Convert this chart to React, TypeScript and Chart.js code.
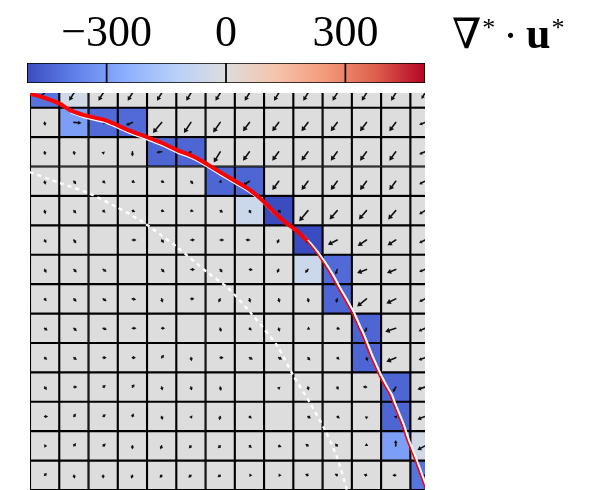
import React, { useEffect, useRef } from "react";
import { Chart, registerables } from "chart.js";

Chart.register(...registerables);

// ---------- data ----------
const ROWS = [0, 1, 2, 3, 4, 5, 6, 7, 8, 9, 10, 11, 12, 13];
const COLS = [0, 1, 2, 3, 4, 5, 6, 7, 8, 9, 10, 11, 12, 13];

// divergence per cell (row 0 = top)
const DIV: number[][] = [
  [-410, -40, 0, 0, 0, 0, 0, 0, 0, 0, 0, 0, 0, 0],
  [0, -300, -430, -430, 0, 0, 0, 0, 0, 0, 0, 0, 0, 0],
  [0, 0, 0, 0, -440, -440, 0, 0, 0, 0, 0, 0, 0, 0],
  [0, 0, 0, 0, 0, 0, -440, -440, 0, 0, 0, 0, 0, 0],
  [0, 0, 0, 0, 0, 0, 0, -60, -500, 0, 0, 0, 0, 0],
  [0, 0, 0, 0, 0, 0, 0, 0, 0, -500, 0, 0, 0, 0],
  [0, 0, 0, 0, 0, 0, 0, 0, 0, -60, -430, 0, 0, 0],
  [0, 0, 0, 0, 0, 0, 0, 0, 0, 0, -440, 0, 0, 0],
  [0, 0, 0, 0, 0, 0, 0, 0, 0, 0, 0, -440, 0, 0],
  [0, 0, 0, 0, 0, 0, 0, 0, 0, 0, 0, -440, 0, 0],
  [0, 0, 0, 0, 0, 0, 0, 0, 0, 0, 0, 0, -440, 0],
  [0, 0, 0, 0, 0, 0, 0, 0, 0, 0, 0, 0, -440, 0],
  [0, 0, 0, 0, 0, 0, 0, 0, 0, 0, 0, 0, -300, -40],
  [0, 0, 0, 0, 0, 0, 0, 0, 0, 0, 0, 0, 0, -410],
];

// velocity vectors (u right, v up), cell units
const U: number[][] = [
  [-0.15, -0.16, -0.16, -0.16, -0.16, -0.16, -0.16, -0.16, -0.16, -0.16, -0.16, -0.16, -0.16, -0.12],
  [0.02, 0.26, 0.12, -0.22, -0.3, -0.24, -0.24, -0.22, -0.22, -0.22, -0.22, -0.22, -0.22, -0.2],
  [0.02, 0.03, 0.02, 0, -0.18, -0.26, -0.22, -0.22, -0.22, -0.22, -0.22, -0.22, -0.22, -0.2],
  [0.03, 0.08, 0.08, 0.09, 0.1, 0.08, 0.06, -0.22, -0.22, -0.22, -0.22, -0.22, -0.22, -0.2],
  [0.03, 0.08, 0.08, 0.1, 0.1, 0.1, 0.1, 0.06, 0.08, -0.3, -0.26, -0.26, -0.26, -0.2],
  [0.06, 0.08, 0, 0.14, 0.08, 0.14, 0.14, -0.14, -0.06, -0.06, -0.32, -0.3, -0.28, -0.2],
  [0.06, 0.1, 0.12, 0, 0.1, 0.14, 0.08, 0.12, -0.06, -0.1, -0.06, -0.32, -0.3, -0.2],
  [0.07, 0.09, 0.12, 0.13, 0.03, 0.12, -0.06, 0.03, 0.03, 0.03, -0.04, -0.32, -0.32, -0.2],
  [0.1, 0.1, 0.13, 0.14, 0.12, 0, 0.03, 0.08, 0.03, 0.08, 0.1, -0.06, -0.36, -0.22],
  [0.09, 0.1, 0.12, 0.12, 0.08, 0.03, 0.12, 0.12, 0.12, 0.08, 0.08, 0.04, -0.32, -0.22],
  [0.08, 0.12, 0.09, 0.07, 0.03, 0.03, 0.03, 0, 0.02, 0.02, 0.04, -0.13, -0.1, -0.26],
  [0.12, 0.07, 0.09, 0.04, 0.03, 0.04, -0.03, 0.08, 0, 0.1, 0.09, 0, 0.02, -0.26],
  [0.09, 0.07, 0.09, 0, -0.04, -0.07, -0.08, 0.08, 0.1, -0.09, -0.08, 0, 0, -0.26],
  [0.08, 0.03, 0, -0.04, -0.07, -0.09, -0.09, 0.1, 0.1, -0.1, -0.09, -0.1, -0.12, -0.08],
];
const V: number[][] = [
  [-0.15, -0.26, -0.26, -0.26, -0.26, -0.26, -0.26, -0.26, -0.26, -0.26, -0.26, -0.26, -0.26, -0.2],
  [-0.12, -0.02, -0.04, -0.1, -0.36, -0.36, -0.34, -0.3, -0.3, -0.3, -0.3, -0.3, -0.3, -0.08],
  [-0.12, -0.12, -0.1, -0.16, -0.02, -0.12, -0.36, -0.3, -0.3, -0.3, -0.3, -0.3, -0.3, -0.08],
  [-0.12, -0.1, -0.08, -0.06, -0.05, -0.1, -0.06, -0.14, -0.3, -0.3, -0.3, -0.3, -0.3, -0.1],
  [-0.12, -0.1, -0.07, -0.05, -0.04, -0.03, -0.06, -0.1, -0.08, -0.36, -0.3, -0.3, -0.3, -0.12],
  [-0.1, -0.12, 0, 0, -0.1, 0.01, 0, 0.01, -0.12, -0.1, -0.16, -0.2, -0.18, -0.1],
  [-0.12, -0.1, -0.08, 0, -0.1, 0, -0.1, -0.02, -0.12, -0.12, -0.18, -0.12, -0.12, -0.08],
  [-0.08, -0.1, -0.08, -0.03, -0.13, 0, -0.12, -0.13, -0.13, -0.13, -0.14, -0.26, -0.16, -0.1],
  [-0.08, -0.1, -0.05, 0, 0, 0, -0.13, -0.08, -0.12, -0.04, -0.03, -0.14, -0.12, -0.1],
  [-0.07, -0.08, 0, 0, 0.1, -0.12, 0, -0.06, -0.06, -0.1, -0.07, -0.12, -0.14, -0.08],
  [-0.1, 0, 0.07, 0.1, -0.12, -0.12, -0.13, 0, -0.1, -0.12, -0.1, 0.01, -0.18, -0.08],
  [0, 0.1, 0.08, 0.11, -0.12, -0.08, -0.13, -0.07, 0, -0.07, -0.07, -0.1, -0.08, -0.1],
  [0, 0.1, 0.08, -0.12, -0.12, -0.09, -0.08, -0.07, -0.04, 0.07, 0.08, 0.1, 0.2, -0.14],
  [0.08, -0.12, -0.12, -0.12, -0.09, -0.08, -0.07, 0, 0, 0.04, 0.05, 0.03, 0, 0],
];

// interface curve (red), cell units: x = column, y = row (down)
const RED_X = [-0.5, 0.013, 0.525, 0.867, 1.448, 2.063, 2.473, 2.918, 3.499, 4.011, 4.524, 5.037, 5.481, 5.994, 6.506, 7.019, 7.463, 7.873, 8.215, 8.625, 8.967, 9.24, 9.514, 9.787, 10.026, 10.266, 10.505, 10.71, 10.881, 11.12, 11.291, 11.462, 11.667, 11.803, 11.906, 12.077, 12.214, 12.385, 12.59, 12.761, 12.932, 13.034];
const RED_Y = [0.02, 0.17, 0.37, 0.58, 0.78, 0.92, 1.09, 1.29, 1.5, 1.7, 1.94, 2.14, 2.38, 2.69, 2.99, 3.3, 3.67, 4.08, 4.39, 4.69, 5.03, 5.37, 5.75, 6.19, 6.63, 7.04, 7.48, 7.93, 8.3, 8.91, 9.29, 9.66, 10.03, 10.27, 10.54, 10.95, 11.29, 11.8, 12.31, 12.76, 13.23, 13.5];
const RED_THICK_END = 20; // index where the thick part ends

// second interface (white)
const WHITE_X = [0.9, 1.47, 2.08, 2.49, 2.93, 3.51, 4.02, 4.53, 5.05, 5.49, 6.0, 6.51, 7.03, 7.48, 7.9, 8.25, 8.67, 9.03, 9.31, 9.58, 9.86, 10.1, 10.34, 10.58, 10.78, 10.95, 11.19, 11.36, 11.53, 11.73, 11.87, 11.97, 12.14, 12.28, 12.45, 12.65, 12.82, 12.99, 13.09];
const WHITE_Y = [0.66, 0.86, 1.0, 1.17, 1.37, 1.58, 1.78, 2.02, 2.22, 2.46, 2.77, 3.07, 3.38, 3.74, 4.14, 4.44, 4.73, 5.05, 5.38, 5.75, 6.19, 6.63, 7.04, 7.48, 7.93, 8.3, 8.91, 9.29, 9.66, 10.03, 10.27, 10.54, 10.95, 11.29, 11.8, 12.31, 12.76, 13.23, 13.5];

// dotted arc
const ARC_X = [-0.5, 0.525, 1.482, 2.473, 3.362, 4.524, 5.549, 6.233, 7.019, 7.976, 8.489, 9.07, 9.582, 9.992, 10.334];
const ARC_Y = [2.69, 3.06, 3.4, 3.88, 4.39, 5.24, 6.09, 6.6, 7.45, 8.64, 9.59, 10.54, 11.46, 12.38, 13.5];

// colour bar
const CB_MIN = -500;
const CB_MAX = 500;
const CB_TICKS = [-300, 0, 300];
const CB_BOUNDS = [-500, -300, 0, 300, 500];

// coolwarm colormap stops
const CMAP: [number, number, number][] = [
  [59, 76, 192],
  [98, 130, 234],
  [141, 176, 254],
  [184, 208, 249],
  [221, 221, 221],
  [245, 196, 173],
  [244, 154, 123],
  [222, 96, 77],
  [180, 4, 38],
];

function cmap(t: number): string {
  const tt = Math.max(0, Math.min(1, t)) * (CMAP.length - 1);
  const i = Math.min(CMAP.length - 2, Math.floor(tt));
  const f = tt - i;
  const a = CMAP[i], b = CMAP[i + 1];
  const c = a.map((v, k) => Math.round(v + (b[k] - v) * f));
  return `rgb(${c[0]},${c[1]},${c[2]})`;
}
const valueColor = (v: number) => cmap((v - CB_MIN) / (CB_MAX - CB_MIN));

// ---------- plugins ----------
const quiverPlugin = {
  id: "quiver",
  afterDatasetDraw(chart: any, args: any) {
    if (args.index !== 0) return;
    const ctx = chart.ctx;
    const xs = chart.scales.x;
    const ys = chart.scales.y;
    const a = chart.chartArea;
    ctx.save();
    ctx.beginPath();
    ctx.rect(a.left, a.top, a.right - a.left, a.bottom - a.top);
    ctx.clip();
    ctx.fillStyle = "#111";
    ctx.strokeStyle = "#111";
    ctx.lineWidth = 1.6;
    ctx.lineCap = "round";
    ROWS.forEach((r) => {
      COLS.forEach((c) => {
        const u = U[r][c];
        const v = V[r][c];
        if (!u && !v) return;
        const x0 = xs.getPixelForValue(c);
        const y0 = ys.getPixelForValue(r);
        const x1 = xs.getPixelForValue(c + u);
        const y1 = ys.getPixelForValue(r - v);
        const dx = x1 - x0, dy = y1 - y0;
        const L = Math.hypot(dx, dy);
        if (L < 0.5) return;
        const ux = dx / L, uy = dy / L;
        const h = Math.max(3, Math.min(4.5, L * 0.45));
        const w = h * 0.6;
        const bx = x1 - ux * h, by = y1 - uy * h;
        if (L > h) {
          ctx.beginPath();
          ctx.moveTo(x0, y0);
          ctx.lineTo(bx, by);
          ctx.stroke();
        }
        ctx.beginPath();
        ctx.moveTo(x1, y1);
        ctx.lineTo(bx - uy * w, by + ux * w);
        ctx.lineTo(bx + uy * w, by - ux * w);
        ctx.closePath();
        ctx.fill();
      });
    });
    ctx.restore();
  },
};

const labelPlugin = {
  id: "cbLabel",
  afterDraw(chart: any) {
    const ctx = chart.ctx;
    ctx.save();
    ctx.fillStyle = "#000";
    ctx.textBaseline = "alphabetic";
    let x = 452;
    ctx.font = '42px "DejaVu Serif"';
    ctx.fillText("∇", x, 48);
    x += ctx.measureText("∇").width + 1;
    ctx.font = '26px "Liberation Serif"';
    ctx.fillText("*", x, 36);
    x += ctx.measureText("*").width + 8;
    ctx.font = '44px "Liberation Serif"';
    ctx.fillText("·", x, 50);
    x += ctx.measureText("·").width + 8;
    ctx.font = 'bold 44px "Liberation Serif"';
    ctx.fillText("u", x, 48);
    x += ctx.measureText("u").width + 1;
    ctx.font = '26px "Liberation Serif"';
    ctx.fillText("*", x, 36);
    ctx.restore();
  },
};

export default function App() {
  const mainRef = useRef<HTMLCanvasElement>(null);
  const cbRef = useRef<HTMLCanvasElement>(null);

  useEffect(() => {
    if (!mainRef.current || !cbRef.current) return;

    const barSets = ROWS.map((r) => ({
      type: "bar" as const,
      data: COLS.map((c) => ({ x: c, y: [r - 0.5, r + 0.5] })),
      backgroundColor: DIV[r].map(valueColor),
      borderColor: "#000",
      borderWidth: 1.4,
      borderSkipped: false,
      grouped: false,
      barPercentage: 1,
      categoryPercentage: 1,
      clip: 0,
      order: 10,
    }));

    const pts = (xs: number[], ys: number[]) => xs.map((x, i) => ({ x, y: ys[i] }));

    const lineBase = { type: "line" as const, pointRadius: 0, clip: 0, fill: false, tension: 0.25 };

    const main = new Chart(mainRef.current, {
      type: "bar",
      data: {
        datasets: [
          ...barSets,
          {
            ...lineBase,
            data: pts(ARC_X, ARC_Y),
            borderColor: "#ffffff",
            borderWidth: 2.4,
            borderDash: [4, 4],
            order: 4,
          },
          {
            ...lineBase,
            data: pts(WHITE_X, WHITE_Y),
            borderColor: "#ffffff",
            borderWidth: 2.2,
            order: 3,
          },
          {
            ...lineBase,
            data: pts(RED_X.slice(RED_THICK_END), RED_Y.slice(RED_THICK_END)),
            borderColor: "#ff0000",
            borderWidth: 1.5,
            order: 2,
          },
          {
            ...lineBase,
            data: pts(RED_X.slice(0, RED_THICK_END + 1), RED_Y.slice(0, RED_THICK_END + 1)),
            borderColor: "#ff0000",
            borderWidth: 4,
            order: 1,
          },
        ] as any,
      },
      options: {
        responsive: false,
        animation: false,
        devicePixelRatio: 1,
        events: [],
        layout: { padding: { left: 30, top: 93, right: 170, bottom: 0 } },
        scales: {
          x: { type: "linear", min: -0.5, max: 13, display: false, offset: false },
          y: { type: "linear", min: 0, max: 13.5, reverse: true, display: false },
        },
        plugins: { legend: { display: false }, tooltip: { enabled: false } },
      },
      plugins: [quiverPlugin],
    });

    const gradient = (ctx: any) => {
      const ch = ctx.chart;
      const a = ch.chartArea;
      if (!a) return "#ddd";
      const g = ch.ctx.createLinearGradient(a.left, 0, a.right, 0);
      CMAP.forEach((c, i) => g.addColorStop(i / (CMAP.length - 1), `rgb(${c[0]},${c[1]},${c[2]})`));
      return g;
    };

    const cb = new Chart(cbRef.current, {
      type: "bar",
      data: {
        labels: [""],
        datasets: CB_BOUNDS.slice(0, -1).map((lo, i) => ({
          data: [[lo, CB_BOUNDS[i + 1]]],
          backgroundColor: gradient,
          borderColor: "#000",
          borderWidth: 1.2,
          borderSkipped: false,
          grouped: false,
          barPercentage: 1,
          categoryPercentage: 1,
        })) as any,
      },
      options: {
        indexAxis: "y",
        responsive: false,
        animation: false,
        devicePixelRatio: 1,
        events: [],
        layout: { padding: { left: 27, right: 170, top: 0, bottom: 9 } },
        scales: {
          x: {
            type: "linear",
            position: "top",
            min: CB_MIN,
            max: CB_MAX,
            grid: { display: false, drawTicks: false },
            border: { display: false },
            afterBuildTicks: (s: any) => {
              s.ticks = CB_TICKS.map((v) => ({ value: v }));
            },
            afterFit: (s: any) => {
              s.height = 63;
            },
            ticks: {
              color: "#000",
              padding: 2,
              maxRotation: 0,
              font: { family: '"Liberation Serif", serif', size: 44 },
              callback: (v: any) => (Number(v) < 0 ? "\u2212" + Math.abs(Number(v)) : String(v)),
            },
          },
          y: { display: false },
        },
        plugins: { legend: { display: false }, tooltip: { enabled: false } },
      },
      plugins: [labelPlugin],
    });

    return () => {
      main.destroy();
      cb.destroy();
    };
  }, []);

  return (
    <div style={{ position: "fixed", left: 0, top: 0, width: 595, height: 490, background: "#fff" }}>
      <canvas ref={mainRef} width={595} height={490} style={{ position: "absolute", left: 0, top: 0 }} />
      <canvas ref={cbRef} width={595} height={92} style={{ position: "absolute", left: 0, top: 0 }} />
    </div>
  );
}
